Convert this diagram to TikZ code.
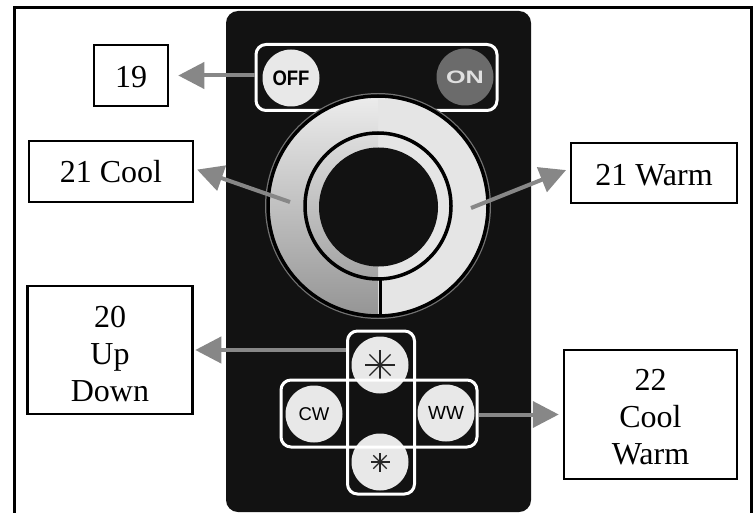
\documentclass[tikz,border=0pt]{standalone}
\usepackage{fontspec}
\setmainfont{Liberation Serif}
\newfontfamily\keyfont{Liberation Sans}
\usetikzlibrary{arrows.meta}
\definecolor{casing}{gray}{0.07}
\definecolor{keycolor}{gray}{0.91}
\definecolor{pointer}{gray}{0.53}
\tikzset{
    labelbox/.style={draw=black,line width=2.5pt,fill=white,inner sep=0pt,align=center,
        font=\fontsize{32}{37}\selectfont},
    keybtn/.style={circle,fill=keycolor,minimum size=57pt,inner sep=0pt,text=black},
    keygroup/.style={draw=white,line width=3pt,rounded corners=10pt,inner sep=0pt},
    pointerline/.style={draw=pointer,line width=4pt,-{Triangle[length=26pt,width=26pt,fill=pointer]}}
}
\begin{document}
\begin{tikzpicture}[x=1pt,y=-1pt]
    \useasboundingbox (0,0) rectangle (754,513);
    \draw[line width=3pt] (14,513) -- (14,8) -- (751,8) -- (751,513);
    \fill[casing,rounded corners=12pt] (226,11) rectangle (531,512);

    \node[keygroup,minimum width=241pt,minimum height=66pt] (powergroup) at (376.5,77.5) {};
    \node[keybtn,font=\keyfont\bfseries\fontsize{21}{21}\selectfont] (off) at (291,78) {\scalebox{0.88}[1]{OFF}};
    \node[keybtn,fill=black!58,text=black!12,font=\keyfont\bfseries\fontsize{18}{18}\selectfont] (on) at (465,77) {\scalebox{1.4}[1]{ON}};

    % dial
    \coordinate (dialcentre) at (378,206);
    \fill[black!55] (dialcentre) circle (113);
    \fill[black!10] (dialcentre) circle (111);
    \begin{scope}
        \clip (265,90) rectangle (378,320);
        \clip (dialcentre) circle (111);
        \shade[top color=black!8,bottom color=black!42] (265,100) rectangle (378,318);
    \end{scope}
    \draw[line width=3.5pt] (dialcentre) circle (110);
    \draw[line width=3.5pt] (dialcentre) circle (73);
    \fill[casing] (378.5,207) circle (59.5);
    \draw[line width=3pt] (380.5,279) -- (380.5,315);

    \node[keybtn] (upkey) at (380,365) {};
    \node[keybtn] (downkey) at (380,462) {};
    \node[keybtn,font=\keyfont\fontsize{18.5}{18.5}\selectfont] (cw) at (314,414) {CW};
    \node[keybtn,font=\keyfont\fontsize{19}{19}\selectfont] (ww) at (446,413) {WW};
    \foreach \a in {0,45,90,135} {
        \draw[line width=1.2pt,black!85] (upkey) ++(\a:15) -- ++(\a+180:30);
        \draw[line width=1.1pt,black!85] (downkey) ++(\a:9.5) -- ++(\a+180:19);
    }
    \node[keygroup,minimum width=67pt,minimum height=163pt] (updown) at (381,412.5) {};
    \node[keygroup,minimum width=196pt,minimum height=67pt] (coolwarm) at (379,413.5) {};

    % labels
    \node[labelbox,minimum width=74pt,minimum height=61pt] (powerbox) at (131,75.5) {\rule{0pt}{24pt}19};
    \node[labelbox,minimum width=164pt,minimum height=61pt] (coolbox) at (111,171.5) {21 Cool};
    \node[labelbox,minimum width=166pt,minimum height=60pt] (warmbox) at (654,173) {\rule{0pt}{25pt}21 Warm};
    \node[labelbox,minimum width=165pt,minimum height=128pt] (dimbox) at (110,350) {\rule{0pt}{29pt}20\\Up\\Down};
    \node[labelbox,minimum width=173pt,minimum height=129pt] (tonebox) at (650.5,414.5) {\rule{0pt}{27pt}22\\Cool\\Warm};

    \coordinate (coolspot) at (290,202);
    \coordinate (warmspot) at (471,208);
    \draw[pointerline,shorten >=9pt] (powergroup.west |- powerbox.east) -- (powerbox.east);
    \draw[pointerline,shorten >=3pt] (coolspot) -- (coolbox.2);
    \draw[pointerline,shorten >=4pt] (warmspot) -- (warmbox.177);
    \draw[pointerline,shorten >=1.5pt] (updown.west |- dimbox.east) -- (dimbox.east);
    \draw[pointerline,shorten >=4pt] (coolwarm.east |- tonebox.west) -- (tonebox.west);
\end{tikzpicture}
\end{document}
